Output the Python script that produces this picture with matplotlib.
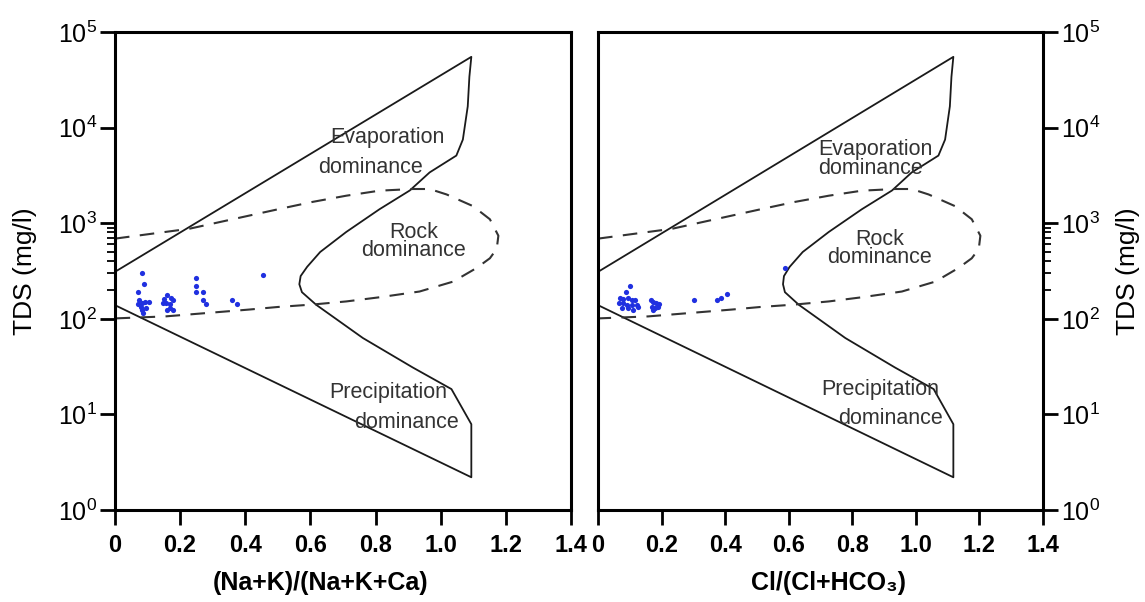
import numpy as np
import matplotlib.pyplot as plt
from matplotlib.ticker import FixedLocator, NullFormatter

plt.rcParams['font.family'] = ['Liberation Sans', 'DejaVu Sans']

# Gibbs boundary (solid) - left panel, Na+K ratio
bound_x_left = [0, 1.094, 1.088, 1.083, 1.068, 1.048, 0.966, 0.905, 0.812, 0.710, 0.630,
                0.590, 0.570, 0.566, 0.574, 0.618, 0.761, 0.914, 1.033, 1.094, 1.094, 0]
bound_tds = [310, 55000, 34000, 16700, 7500, 5100, 3400, 2200, 1400, 810, 500,
             350, 280, 230, 190, 140, 63, 31, 18.4, 7.9, 2.2, 139]
# right panel template is a bit wider in data units
bound_x_right = [0, 1.118, 1.112, 1.107, 1.092, 1.071, 0.987, 0.925, 0.830, 0.726, 0.644,
                 0.603, 0.585, 0.582, 0.588, 0.632, 0.778, 0.934, 1.056, 1.118, 1.118, 0]

# rock dominance (dashed)
rock_x_left = [0.0, 0.228, 0.505, 0.606, 0.710, 0.812, 0.914, 0.966, 1.018, 1.099, 1.151,
               1.177, 1.172, 1.151, 1.110, 1.038, 0.935, 0.812, 0.710, 0.606, 0.5, 0.412,
               0.309, 0.155, 0.0]
rock_tds = [690, 875, 1410, 1670, 1940, 2190, 2280, 2280, 2000, 1510, 1100,
            740, 540, 430, 340, 245, 193, 168, 152, 141, 133, 125,
            117, 106, 101]
rock_x_right = [0.0, 0.233, 0.516, 0.619, 0.726, 0.830, 0.934, 0.987, 1.040, 1.123, 1.176,
                1.203, 1.198, 1.176, 1.134, 1.061, 0.956, 0.830, 0.726, 0.619, 0.511, 0.421,
                0.316, 0.158, 0.0]

# samples
na_ratio = [0.082, 0.089, 0.071, 0.074, 0.082, 0.072, 0.079, 0.092, 0.103, 0.084, 0.094, 0.087,
            0.161, 0.151, 0.171, 0.156, 0.168, 0.178, 0.146, 0.178, 0.161, 0.169,
            0.248, 0.248, 0.248, 0.269, 0.269, 0.281, 0.358, 0.376, 0.453]
na_tds = [303, 234, 192, 157, 145, 142, 134, 149, 151, 124, 129, 114,
          177, 160, 164, 145, 142, 157, 145, 124, 124, 131,
          269, 222, 192, 192, 157, 142, 157, 142, 286]

cl_ratio = [0.101, 0.087, 0.069, 0.080, 0.095, 0.106, 0.116, 0.067, 0.080, 0.090, 0.106, 0.122,
            0.075, 0.095, 0.109, 0.127, 0.167, 0.174, 0.182, 0.193, 0.169, 0.179, 0.190, 0.174,
            0.302, 0.373, 0.386, 0.407, 0.588]
cl_tds = [222, 192, 166, 161, 166, 157, 157, 145, 145, 140, 140, 140,
          131, 129, 124, 134, 157, 149, 145, 142, 134, 129, 134, 124,
          157, 157, 164, 183, 344]

xticks = [0, 0.2, 0.4, 0.6, 0.8, 1.0, 1.2, 1.4]
xticklabels = ['0', '0.2', '0.4', '0.6', '0.8', '1.0', '1.2', '1.4']

fig = plt.figure(figsize=(11.45, 6.02), dpi=100)
ax1 = fig.add_axes([0.1004, 0.1528, 0.3983, 0.794])
ax2 = fig.add_axes([0.5223, 0.1528, 0.3886, 0.794])

for ax in (ax1, ax2):
    ax.set_yscale('log')
    ax.set_ylim(1, 1e5)
    ax.set_xlim(0, 1.4)
    ax.set_xticks(xticks)
    ax.set_xticklabels(xticklabels, fontsize=17, fontweight='bold')
    ax.yaxis.set_major_locator(FixedLocator([1, 10, 100, 1000, 1e4, 1e5]))
    ax.yaxis.set_minor_locator(FixedLocator([200, 300, 400, 500, 600, 700, 800, 900]))
    ax.yaxis.set_minor_formatter(NullFormatter())
    for s in ax.spines.values():
        s.set_linewidth(2.2)
    ax.tick_params(axis='x', direction='out', length=11, width=2, pad=6)
    ax.tick_params(axis='y', which='major', direction='out', length=11, width=2,
                   labelsize=18, pad=2)
    ax.tick_params(axis='y', which='minor', direction='out', length=6, width=1.3)

ax2.yaxis.tick_right()
ax2.yaxis.set_label_position('right')

# boundaries
ax1.plot(bound_x_left, bound_tds, color='#1a1a1a', lw=1.3)
ax2.plot(bound_x_right, bound_tds, color='#1a1a1a', lw=1.3)
ax1.plot(rock_x_left, rock_tds, color='#333333', lw=1.5, dashes=(7, 5))
ax2.plot(rock_x_right, rock_tds, color='#333333', lw=1.5, dashes=(7, 5))

# samples
ax1.scatter(na_ratio, na_tds, s=14, color='#2030e0', linewidths=0, zorder=3)
ax2.scatter(cl_ratio, cl_tds, s=14, color='#2030e0', linewidths=0, zorder=3)

tc = '#333333'
fs = 15.5
ax1.text(0.66, 7900, 'Evaporation', fontsize=fs, color=tc, ha='left', va='center')
ax1.text(0.625, 3860, 'dominance', fontsize=fs, color=tc, ha='left', va='center')
ax1.text(0.755, 640, 'Rock\ndominance', fontsize=fs, color=tc, ha='left', va='center',
         multialignment='center', linespacing=0.82)
ax1.text(0.84, 16.9, 'Precipitation', fontsize=fs, color=tc, ha='center', va='center')
ax1.text(0.895, 8.2, 'dominance', fontsize=fs, color=tc, ha='center', va='center')

ax2.text(0.692, 4700, 'Evaporation\ndominance', fontsize=fs, color=tc, ha='left',
         va='center', multialignment='left', linespacing=0.82)
ax2.text(0.72, 545, 'Rock\ndominance', fontsize=fs, color=tc, ha='left', va='center',
         multialignment='center', linespacing=0.82)
ax2.text(0.887, 18.1, 'Precipitation', fontsize=fs, color=tc, ha='center', va='center')
ax2.text(0.921, 9.0, 'dominance', fontsize=fs, color=tc, ha='center', va='center')

ax1.set_ylabel('TDS (mg/l)', fontsize=19)
ax1.yaxis.set_label_coords(-0.17, 0.5)
ax2.set_ylabel('TDS (mg/l)', fontsize=19)
ax2.yaxis.set_label_coords(1.165, 0.5)

ax1.set_xlabel('(Na+K)/(Na+K+Ca)', fontsize=18, fontweight='bold')
ax1.xaxis.set_label_coords(0.45, -0.128)
ax2.set_xlabel('Cl/(Cl+HCO₃)', fontsize=18, fontweight='bold')
ax2.xaxis.set_label_coords(0.517, -0.128)

fig.savefig('out.png', dpi=100)
